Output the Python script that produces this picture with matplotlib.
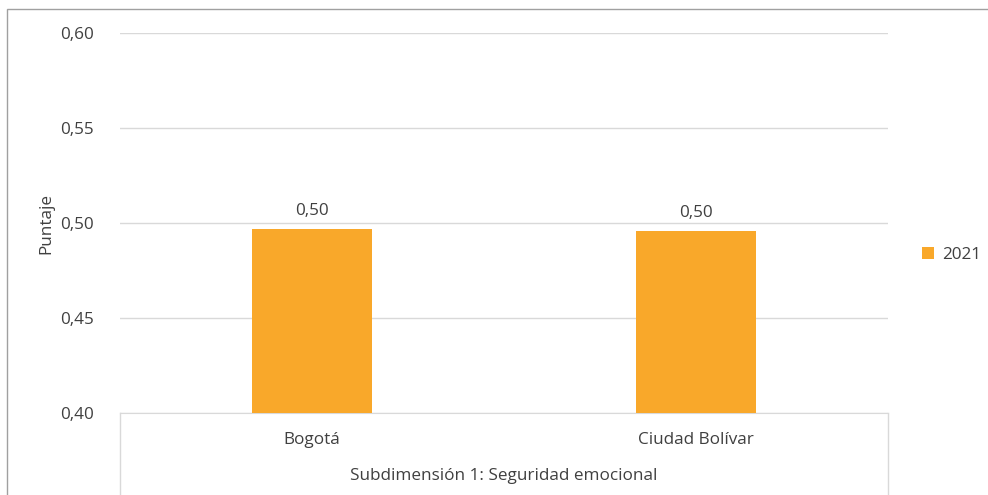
import matplotlib.pyplot as plt
import numpy as np
from matplotlib.lines import Line2D
from matplotlib.patches import Rectangle

categories = ["Bogotá", "Ciudad Bolívar"]
values = [0.497, 0.496]
labels = ["0,50", "0,50"]
series = "2021"
group = "Subdimensión 1: Seguridad emocional"
yticks = [0.40, 0.45, 0.50, 0.55, 0.60]

plt.rcParams['font.family'] = ['Open Sans', 'DejaVu Sans']
txt = "#404040"
bar_color = "#F9A82A"
fs = 12.3

fig = plt.figure(figsize=(9.88, 4.95), dpi=100)
ax = fig.add_axes([120/988, 1-413/495, 768/988, 380/495])

x = np.arange(len(categories))
ax.bar(x, values, width=0.315, color=bar_color, zorder=3, label=series)
for xi, v, lab in zip(x, values, labels):
    ax.text(xi, v + 0.005, lab, ha="center", va="bottom", fontsize=fs, color=txt)

ax.set_xlim(-0.5, len(categories) - 0.5)
ax.set_ylim(0.40, 0.60)
ax.set_yticks(yticks)
ax.set_yticklabels([f"{t:.2f}".replace(".", ",") for t in yticks], fontsize=fs, color=txt)
ax.tick_params(axis="y", length=0, pad=19)
ax.set_xticks([])
ax.grid(axis="y", color="#D9D9D9", lw=1, zorder=0)
for s in ["top", "right", "left"]:
    ax.spines[s].set_visible(False)
ax.spines["bottom"].set_color("#D9D9D9")

ax.set_ylabel("Puntaje", fontsize=fs, color=txt)
ax.yaxis.set_label_coords(-66/768, 0.5)

# category and group labels in the box below the axis
for xi, c in zip(x, categories):
    ax.text(xi, 0.40 - 27/1900, c, ha="center", va="center", fontsize=fs, color=txt)
ax.text(0.5, 0.40 - 63/1900, group, ha="center", va="center", fontsize=fs, color=txt)
for xv in [-0.5, 1.5]:
    ax.add_line(Line2D([xv, xv], [0.40, 0.40 - 90/1900], color="#D9D9D9", lw=1, clip_on=False))

leg = fig.legend(loc="center left", bbox_to_anchor=(922/988, 1-255/495), frameon=False,
                 fontsize=fs, handlelength=0.7, handleheight=0.7, handletextpad=0.45,
                 borderpad=0, borderaxespad=0)
for t in leg.get_texts():
    t.set_color(txt)

fig.patches.append(Rectangle((7/988, -0.1), 1.1, 1.1 - 9/495, transform=fig.transFigure,
                             fill=False, edgecolor="#A0A0A0", lw=1))

fig.savefig("out.png", dpi=100)
